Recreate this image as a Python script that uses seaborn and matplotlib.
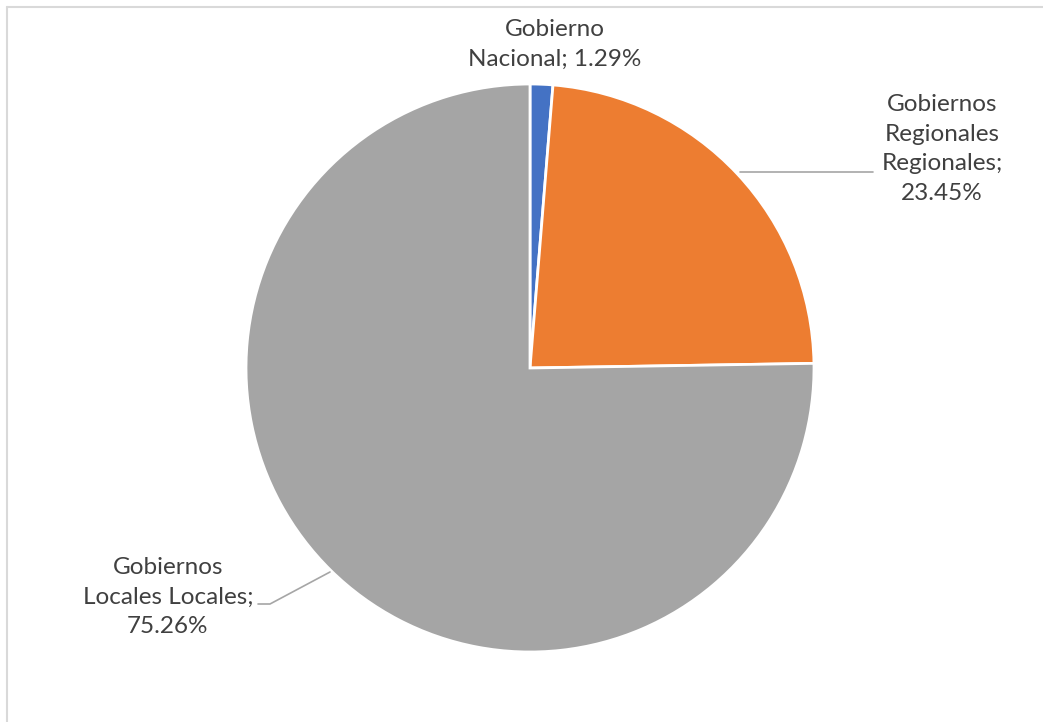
import matplotlib
matplotlib.use("Agg")
import matplotlib.pyplot as plt
import seaborn as sns

# data
categories = ["Gobierno\nNacional", "Gobiernos\nRegionales\nRegionales", "Gobiernos\nLocales Locales"]
shares = [1.29, 23.45, 75.26]
colors = ["#4472C4", "#ED7D31", "#A5A5A5"]
separators = [" ", "\n", "\n"]

sns.set_theme(style="white")
plt.rcParams['font.family'] = ['Lato', 'DejaVu Sans']

W, H = 1043, 722
cx, cy, r = 530, 368, 284

fig = plt.figure(figsize=(W / 100, H / 100), dpi=100)
fig.patch.set_facecolor("white")

# light frame (top and left edges visible)
fig.add_artist(plt.Line2D([7 / W, 1.0], [1 - 7 / H, 1 - 7 / H], color="#D9D9D9", lw=1.5))
fig.add_artist(plt.Line2D([7 / W, 7 / W], [0, 1 - 7 / H], color="#D9D9D9", lw=1.5))

ax = fig.add_axes([(cx - r) / W, (H - cy - r) / H, 2 * r / W, 2 * r / H])
ax.pie(shares, colors=colors, startangle=90, counterclock=False,
       wedgeprops=dict(edgecolor="white", linewidth=2))
ax.set_xlim(-1, 1)
ax.set_ylim(-1, 1)
ax.set_aspect("equal")
ax.axis("off")


def px(x, y):
    return ((x - cx) / r, (cy - y) / r)


label_pos = [(555, 44), (942, 149), (168, 597)]
txt_kw = dict(ha="center", va="center", fontsize=17.5, color="#404040",
              linespacing=1.52)
for name, val, sep, (lx, ly) in zip(categories, shares, separators, label_pos):
    x, y = px(lx, ly)
    ax.text(x, y, f"{name};{sep}{val:.2f}%", clip_on=False, **txt_kw)

# leader lines
lc = "#A6A6A6"
x0, y0 = px(740, 172)
x1, y1 = px(873, 172)
ax.plot([x0, x1], [y0, y1], color=lc, lw=1.2, clip_on=False)
xs, ys = zip(px(330, 572), px(270, 604), px(258, 604))
ax.plot(xs, ys, color=lc, lw=1.2, clip_on=False)

fig.savefig("out.png", dpi=100, facecolor="white")
